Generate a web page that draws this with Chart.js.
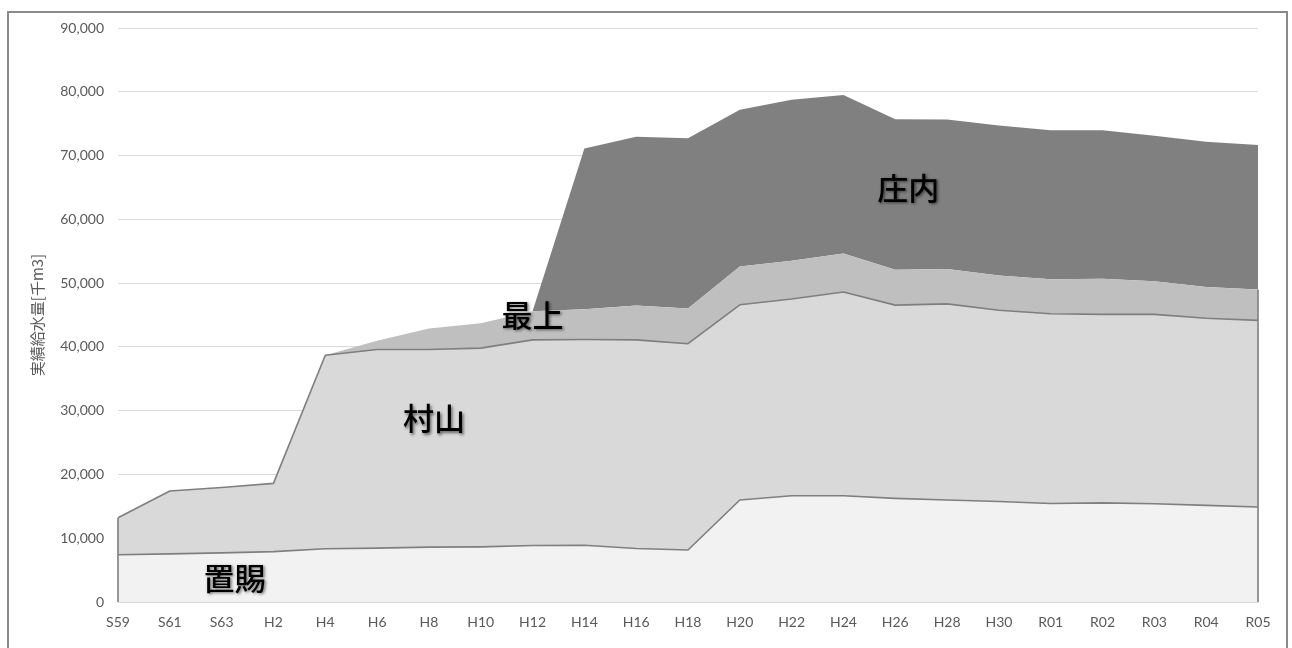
<!DOCTYPE html>
<html>
<head>
<meta charset="utf-8">
<script src="https://cdn.jsdelivr.net/npm/chart.js@4.4.1/dist/chart.umd.min.js"></script>
<style>
  html, body { margin: 0; padding: 0; background: #ffffff; }
  #wrap { position: relative; width: 1292px; height: 648px; overflow: hidden; }
  #frame { position: absolute; left: 7px; top: 11px; width: 1277px; height: 660px; border: 2px solid #8a8a8a; box-sizing: content-box; pointer-events: none; }
  canvas { position: absolute; left: 0; top: 0; }
</style>
</head>
<body>
<div id="wrap">
  <canvas id="c" width="1292" height="648"></canvas>
  <div id="frame"></div>
</div>
<script>
// ---- data ----
const categories = ['S59','S61','S63','H2','H4','H6','H8','H10','H12','H14','H16','H18','H20','H22','H24','H26','H28','H30','R01','R02','R03','R04','R05'];
const seriesNames = ['置賜','村山','最上','庄内'];
const okitama  = [7400,7550,7700,7900,8350,8450,8600,8650,8850,8900,8400,8150,16000,16650,16650,16250,16000,15750,15450,15550,15400,15150,14900];
const murayama = [5800,9850,10250,10700,30350,31150,31000,31150,32250,32250,32700,32350,30600,30850,31950,30300,30750,30000,29750,29550,29700,29350,29250];
const mogami   = [0,0,0,0,0,1350,3300,3900,4500,4750,5400,5500,6000,6000,6050,5550,5450,5450,5400,5600,5200,4900,4850];
const shonai   = [0,0,0,0,0,0,0,0,0,25200,26450,26700,24600,25250,24850,23600,23450,23500,23350,23250,22800,22750,22650];
const yTicks   = [0,10000,20000,30000,40000,50000,60000,70000,80000,90000];
const yTitle   = '実績給水量[千m3]';

// in-chart area labels, anchored in data coordinates (category index, value)
const areaLabels = [
  { text: '置賜', at: 2.25, value: 3800 },
  { text: '村山', at: 6.1,  value: 28800 },
  { text: '最上', at: 8.0,  value: 45000 },
  { text: '庄内', at: 15.25, value: 64900 }
];

const fills   = ['#f2f2f2','#d9d9d9','#bfbfbf','#808080'];
const borders = ['#7f7f7f','#7f7f7f','rgba(0,0,0,0)','rgba(0,0,0,0)'];
const values  = [okitama, murayama, mogami, shonai];

const datasets = values.map((v, i) => ({
  label: seriesNames[i],
  data: v,
  backgroundColor: fills[i],
  borderColor: borders[i],
  borderWidth: i < 2 ? 1.6 : 0,
  fill: i === 0 ? 'origin' : '-1',
  pointRadius: 0,
  pointHoverRadius: 0,
  tension: 0
}));

const edgePlugin = {
  id: 'edges',
  afterDatasetsDraw(chart) {
    const ctx = chart.ctx;
    const y = chart.scales.y;
    const base = y.getPixelForValue(0);
    const m1 = chart.getDatasetMeta(1).data;
    const m2 = chart.getDatasetMeta(2).data;
    ctx.save();
    ctx.strokeStyle = '#7f7f7f';
    ctx.lineWidth = 1.6;
    ctx.beginPath();
    ctx.moveTo(m1[0].x, base);
    ctx.lineTo(m1[0].x, m1[0].y);
    const last = m2.length - 1;
    ctx.moveTo(m2[last].x, base);
    ctx.lineTo(m2[last].x, m2[last].y);
    ctx.stroke();
    ctx.restore();
  }
};

const labelPlugin = {
  id: 'areaLabels',
  afterDatasetsDraw(chart) {
    const ctx = chart.ctx;
    const xs = chart.scales.x, ys = chart.scales.y;
    ctx.save();
    ctx.font = '500 31px "Noto Sans CJK JP", "Noto Sans CJK SC", sans-serif';
    ctx.textAlign = 'center';
    ctx.textBaseline = 'middle';
    ctx.fillStyle = '#000000';
    ctx.shadowColor = 'rgba(0,0,0,0.55)';
    ctx.shadowBlur = 3;
    ctx.shadowOffsetX = 1.5;
    ctx.shadowOffsetY = 1.5;
    areaLabels.forEach(l => {
      ctx.fillText(l.text, xs.getPixelForValue(l.at), ys.getPixelForValue(l.value));
    });
    ctx.restore();
  }
};

new Chart(document.getElementById('c'), {
  type: 'line',
  data: { labels: categories, datasets },
  options: {
    responsive: false,
    animation: false,
    devicePixelRatio: 1,
    layout: { padding: { top: 28, right: 34, bottom: 0, left: 0 } },
    plugins: { legend: { display: false }, tooltip: { enabled: false } },
    elements: { line: { borderJoinStyle: 'round' } },
    scales: {
      x: {
        offset: false,
        grid: { display: false, drawTicks: false },
        border: { display: true, color: '#d9d9d9', width: 1 },
        ticks: { autoSkip: false, maxRotation: 0, padding: 12, color: '#595959',
                 font: { family: 'Lato, "Noto Sans", sans-serif', size: 14 } },
        afterFit(s) { s.height = 46; }
      },
      y: {
        stacked: true,
        min: 0, max: 90000,
        afterBuildTicks(s) { s.ticks = yTicks.map(v => ({ value: v })); },
        grid: { color: '#d9d9d9', lineWidth: 1, drawTicks: false },
        border: { display: false },
        ticks: { padding: 14, color: '#595959',
                 font: { family: 'Lato, "Noto Sans", sans-serif', size: 14 },
                 callback: v => v.toLocaleString('en-US') },
        title: { display: true, text: yTitle, color: '#595959',
                 font: { family: '"Noto Sans CJK JP", sans-serif', size: 15 },
                 padding: { top: 28, bottom: 0 } },
        afterFit(s) { s.width = 118; s.paddingTop = 8; s.paddingBottom = 8; }
      }
    }
  },
  plugins: [edgePlugin, labelPlugin]
});
</script>
</body>
</html>
